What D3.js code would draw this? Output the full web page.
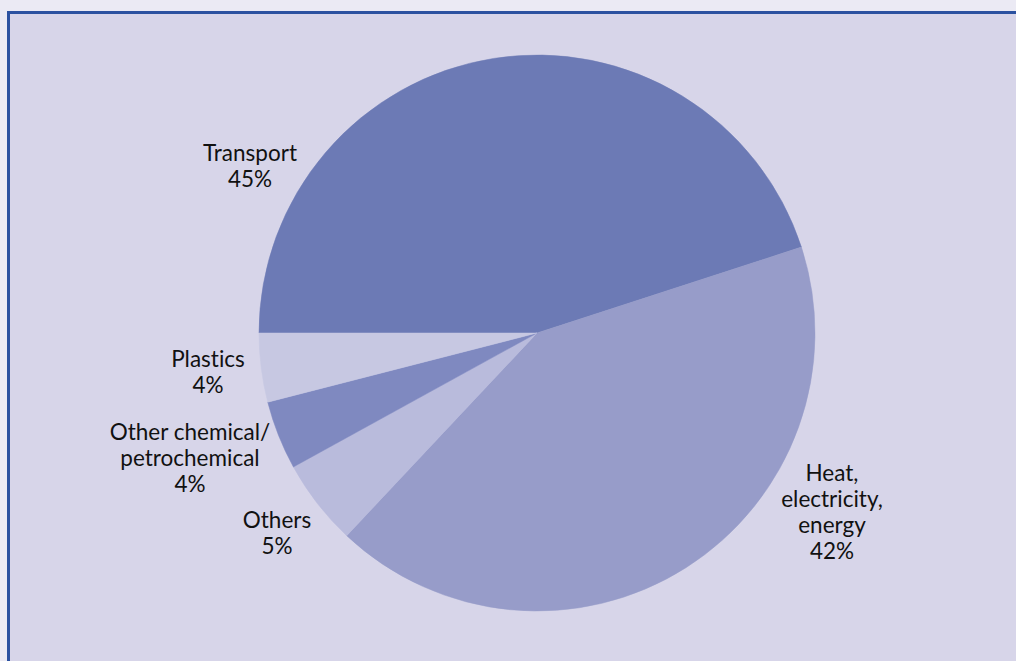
<!DOCTYPE html>
<html>
<head>
<meta charset="utf-8">
<script src="https://cdn.jsdelivr.net/npm/d3@7"></script>
<style>
  html, body { margin: 0; padding: 0; background: #ebeaf4; }
  svg { display: block; }
  text { font-family: Lato, "Noto Sans", sans-serif; font-size: 22.5px; fill: #111;
         font-variant-ligatures: none; font-feature-settings: "liga" 0; }
</style>
</head>
<body>
<svg id="chart" width="1016" height="661"></svg>
<script>
// Shares of oil consumption by end use (%), clockwise from nine o'clock
const categories = ["Transport", "Heat, electricity, energy", "Others", "Other chemical/ petrochemical", "Plastics"];
const shares = [45, 42, 5, 4, 4];
const labelLines = [
  ["Transport", "45%"],
  ["Heat,", "electricity,", "energy", "42%"],
  ["Others", "5%"],
  ["Other chemical/", "petrochemical", "4%"],
  ["Plastics", "4%"]
];
const sliceColors = ["#6c7ab5", "#979cc9", "#b9bbdc", "#7f89c0", "#c7c8e2"];

const svg = d3.select("#chart");

// framed panel (extends past the right and bottom edges)
svg.append("rect")
  .attr("x", 8.5).attr("y", 12.5)
  .attr("width", 1100).attr("height", 700)
  .attr("fill", "#d7d5e9")
  .attr("stroke", "#2b51a0")
  .attr("stroke-width", 3);

const cx = 537, cy = 333, radius = 278;

const pie = d3.pie()
  .value(d => d)
  .sort(null)
  .startAngle(-Math.PI / 2)
  .endAngle(Math.PI * 1.5);

const arc = d3.arc().innerRadius(0).outerRadius(radius);

const g = svg.append("g").attr("transform", `translate(${cx},${cy})`);

g.selectAll("path.slice")
  .data(pie(shares))
  .join("path")
  .attr("class", "slice")
  .attr("d", arc)
  .attr("fill", (d, i) => sliceColors[i])
  .attr("stroke", (d, i) => sliceColors[i])
  .attr("stroke-width", 0.5);

// label anchors (centre x, first baseline y) placed outside the pie
const labelSpots = [
  [250, 161],
  [832, 481],
  [277, 528],
  [190, 440],
  [208, 367]
];
const lineGap = 26;

labelLines.forEach((lines, i) => {
  const [lx, ly] = labelSpots[i];
  const t = svg.append("text")
    .attr("text-anchor", "middle")
    .attr("x", lx).attr("y", ly);
  lines.forEach((ln, j) => {
    t.append("tspan")
      .attr("x", lx)
      .attr("y", ly + j * lineGap)
      .text(ln);
  });
});
</script>
</body>
</html>
